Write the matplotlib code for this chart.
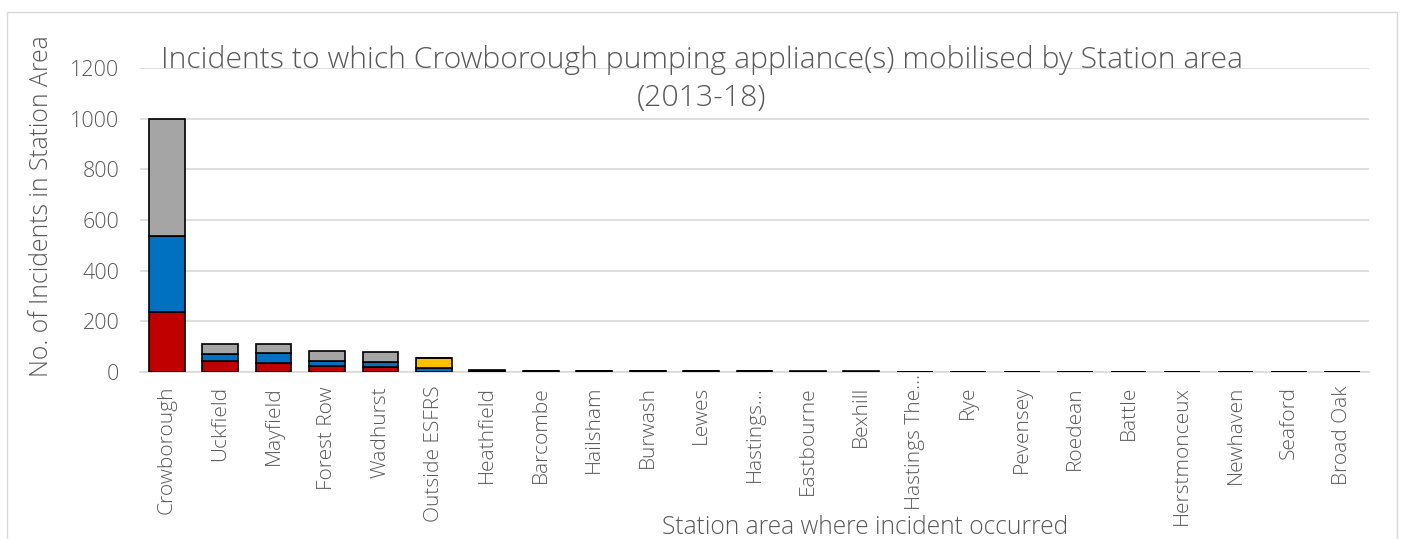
import matplotlib
matplotlib.use("Agg")
import matplotlib.pyplot as plt
import matplotlib.transforms as mtrans
import numpy as np
from matplotlib.patches import Rectangle

plt.rcParams['font.family'] = ['Open Sans', 'DejaVu Sans']
plt.rcParams['font.weight'] = 'light'

categories = ["Crowborough", "Uckfield", "Mayfield", "Forest Row", "Wadhurst",
              "Outside ESFRS", "Heathfield", "Barcombe", "Hailsham", "Burwash",
              "Lewes", "Hastings…", "Eastbourne", "Bexhill", "Hastings The…",
              "Rye", "Pevensey", "Roedean", "Battle", "Herstmonceux",
              "Newhaven", "Seaford", "Broad Oak"]

red = [237, 42, 36, 25, 21, 0, 3, 2, 2, 1, 1, 1, 1, 1, 0, 0, 0, 0, 0, 0, 0, 0, 0]
blue = [300, 28, 39, 20, 19, 17, 2, 1, 1, 1, 1, 1, 0, 0, 0, 0, 0, 0, 0, 0, 0, 0, 0]
yellow = [0, 0, 0, 0, 0, 38, 0, 0, 0, 0, 0, 0, 0, 0, 0, 0, 0, 0, 0, 0, 0, 0, 0]
grey = [463, 42, 34, 39, 39, 0, 2, 2, 2, 1, 1, 1, 1, 1, 1, 1, 1, 1, 1, 1, 1, 1, 1]

n = len(categories)
red, blue, yellow, grey = [np.array(a) for a in (red, blue, yellow, grey)]

txt = '#595959'
fig = plt.figure(figsize=(14.05, 5.39), dpi=100)
fig.patches.append(Rectangle((7/1405, -0.05), (1397-7)/1405, 1.05 - 12/539,
                             transform=fig.transFigure, fill=False,
                             edgecolor='#d9d9d9', linewidth=1.0))
ax = fig.add_axes([140/1405, 1-372/539, (1369-140)/1405, (372-68)/539])

x = np.arange(n)
w = 0.67
kw = dict(width=w, edgecolor='black', linewidth=1.2, zorder=3)
ax.bar(x, red, color='#C00000', **kw)
b1 = red
ax.bar(x, blue, bottom=b1, color='#0070C0', **kw)
b2 = b1 + blue
ax.bar(x, yellow, bottom=b2, color='#FFC000', **kw)
b3 = b2 + yellow
ax.bar(x, grey, bottom=b3, color='#A5A5A5', **kw)

ax.set_xlim(-0.5, n - 0.5)
ax.set_ylim(0, 1200)
ax.set_yticks(np.arange(0, 1201, 200))
ax.yaxis.grid(True, color='#d9d9d9', linewidth=1.2, zorder=0)
ax.set_axisbelow(True)
for s in ['top', 'right', 'left']:
    ax.spines[s].set_visible(False)
ax.spines['bottom'].set_color('#d9d9d9')
ax.spines['bottom'].set_linewidth(1.2)
ax.tick_params(axis='y', length=0, labelsize=15.5, labelcolor=txt, pad=15)
ax.tick_params(axis='x', length=0, labelsize=15, labelcolor=txt, pad=10)
ax.set_xticks(x)
ax.set_xticklabels(categories, rotation=90, va='top', ha='center')
# the long truncated label sits higher, ending just above the axis title
for lab in ax.get_xticklabels():
    if lab.get_text() == "Hastings The…":
        lab.set_transform(lab.get_transform() +
                          mtrans.ScaledTranslation(0, 12/100, fig.dpi_scale_trans))

fig.text(42/1405, 1-206/539, "No. of Incidents in Station Area", rotation=90,
         ha='center', va='center', fontsize=17.8, color=txt)
fig.text(865/1405, 1-528/539, "Station area where incident occurred",
         ha='center', va='center', fontsize=17.7, color=txt)
fig.text(702/1405, 1-79/539, "Incidents to which Crowborough pumping appliance(s) mobilised by Station area\n(2013-18)",
         ha='center', va='center', fontsize=21.7, color=txt, linespacing=1.35)

fig.savefig("out.png", dpi=100)
